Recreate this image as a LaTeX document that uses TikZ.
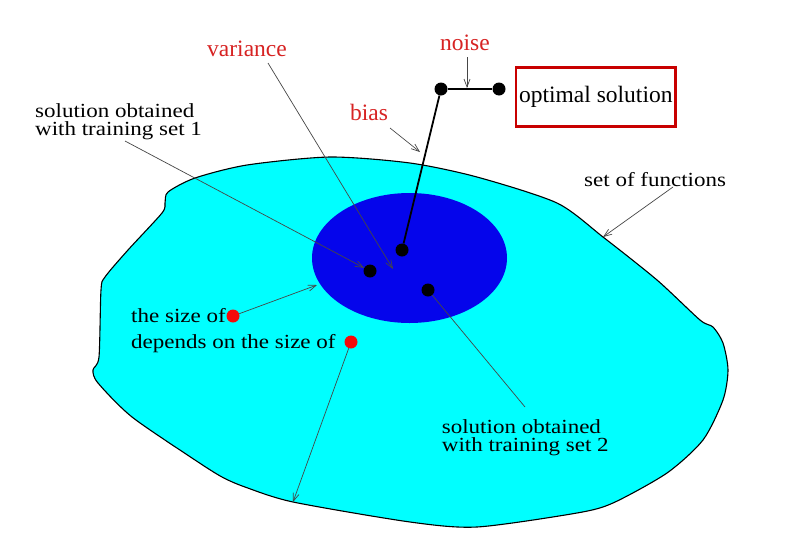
\documentclass[tikz,border=0pt]{standalone}
\usepackage{fontspec}
\setmainfont{Liberation Serif}
\newfontfamily\lblfont[FakeStretch=1.15]{Liberation Serif}
\usetikzlibrary{arrows.meta,shapes.geometric}
\definecolor{cyanfill}{RGB}{0,255,255}
\definecolor{deepblue}{RGB}{5,5,235}
\definecolor{dotred}{RGB}{245,10,10}
\definecolor{redtext}{RGB}{215,35,35}
\definecolor{boxred}{RGB}{200,0,0}
\definecolor{arrowgray}{RGB}{70,70,70}
\tikzset{
  lbl/.style={font=\lblfont\fontsize{20}{18.4}\selectfont, inner sep=0pt, align=left},
  redlbl/.style={font=\fontsize{23.5}{26}\selectfont, text=redtext, inner sep=0pt},
  blackdot/.style={circle, fill=black, inner sep=0pt, minimum size=13pt},
  reddot/.style={circle, fill=dotred, inner sep=0pt, minimum size=13pt},
  arr/.style={draw=arrowgray, line width=0.7pt, -{Straight Barb[length=8pt,width=6pt]}},
  plainline/.style={draw=arrowgray, line width=0.7pt},
  fatline/.style={draw=black, line width=1.8pt},
  optbox/.style={draw=boxred, line width=2.7pt, minimum width=159.7pt, minimum height=59.4pt, inner sep=0pt, font=\fontsize{23.5}{26}\selectfont}
}
\begin{document}
\begin{tikzpicture}[x=1pt,y=-1pt]
\useasboundingbox (0,0) rectangle (793,536);
\fill[white] (0,0) rectangle (793,536);
% set of functions
\draw[fill=cyanfill, line width=1.1pt] plot[smooth cycle, tension=0.45] coordinates {
(330,157) (410,163) (477,177) (557,203) (603,237) (657,280) (700,320) (713,327)
(723,343) (728,370) (723,400) (703,440) (667,473) (613,503) (577,513) (477,527)
(410,522) (293,502) (245,487) (222,477) (195,460) (132,417) (98,383) (93,370)
(99,357) (101,290) (105,277) (128,250) (162,213) (165,203) (168,192) (195,178)
(247,165)};
% solution region
\node[ellipse, fill=deepblue, minimum width=195pt, minimum height=130pt, inner sep=0pt] (region) at (409.5,258) {};
% dots
\node[blackdot] (d1) at (370,271) {};
\node[blackdot] (d2) at (402,250) {};
\node[blackdot] (d3) at (428,290) {};
\node[blackdot] (o1) at (441,89) {};
\node[blackdot] (o2) at (499,89) {};
\node[reddot] (r1) at (233,316) {};
\node[reddot] (r2) at (351,342) {};
% labels
\node[redlbl, anchor=base] (var) at (247,56.5) {variance};
\node[redlbl, anchor=base] (noise) at (465,50.7) {noise};
\node[redlbl, anchor=base] (bias) at (369,120.7) {bias};
\node[optbox] (opt) at (595.8,97) {optimal solution};
\node[lbl, anchor=base west] (sol1) at (35,135.7) {solution obtained\\with training set 1};
\node[lbl, anchor=base west] (sol2) at (441.7,451.7) {solution obtained\\with training set 2};
\node[lbl, anchor=base west] (setf) at (584,186.7) {set of functions};
\node[lbl, anchor=base west] (size1) at (131,322.7) {the size of};
\node[lbl, anchor=base west] (size2) at (131,348.3) {depends on the size of};
% free-end coordinates
\coordinate (varS) at (268,63);
\coordinate (varT) at (393,269);
\coordinate (sol1S) at (125,141);
\coordinate (biasS) at (390,128);
\coordinate (biasT) at (420,152);
\coordinate (noiseS) at (467,57);
\coordinate (noiseT) at (467,88);
\coordinate (setS) at (673,187);
\coordinate (setT) at (603,237);
\coordinate (regT) at (317,285);
\coordinate (outT) at (293,502);
\coordinate (sol2E) at (525,407);
% connectors
\draw[fatline] (d2) -- (o1);
\draw[fatline] (o1) -- (o2);
\draw[arr] (varS) -- (varT);
\draw[arr] (sol1S) -- (d1);
\draw[arr] (biasS) -- (biasT);
\draw[arr] (noiseS) -- (noiseT);
\draw[arr] (setS) -- (setT);
\draw[arr] (r1) -- (regT);
\draw[arr] (r2) -- (outT);
\draw[plainline] (d3) -- (sol2E);
\end{tikzpicture}
\end{document}
